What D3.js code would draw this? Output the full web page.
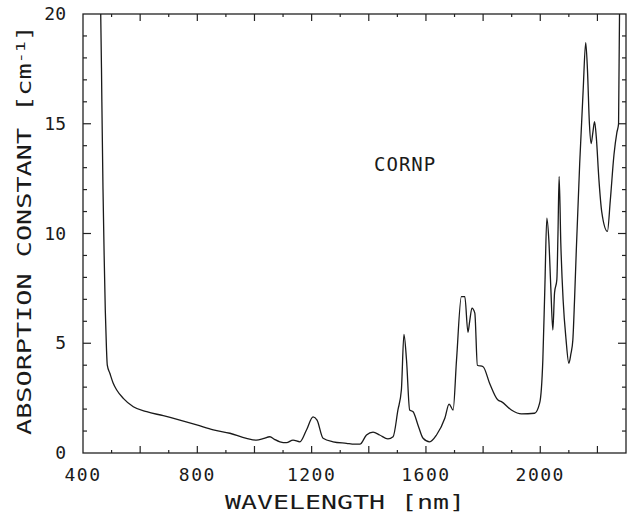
<!DOCTYPE html><html><head><meta charset="UTF-8"><script src="https://d3js.org/d3.v7.min.js"></script><style>
            body { margin: 0; background: #fff; }
            #chart { width: 632px; height: 513px; }
            text { font-family: "DejaVu Sans Mono", monospace; fill: #1a1a1a; }
        </style></head><body><div id="chart"></div><script>
            // wavelength (nm) and absorption constant (cm-1)
            const wavelength = [455, 462, 466, 470, 474, 478, 482, 485, 494, 505, 518, 541, 576, 623, 681, 739, 798, 856, 914, 972,
                1007, 1030, 1054, 1070, 1089, 1112, 1135, 1159, 1182, 1205, 1219, 1240, 1275, 1322, 1350, 1369, 1392, 1415, 1438, 1467,
                1485, 1502, 1514, 1523, 1532, 1543, 1555, 1572, 1590, 1613, 1637, 1666, 1681, 1695, 1707, 1724, 1736, 1747, 1753, 1761,
                1771, 1780, 1800, 1823, 1852, 1864, 1899, 1934, 1980, 1998, 2009, 2016, 2023, 2030, 2037, 2044, 2050, 2058, 2062, 2066,
                2072, 2080, 2090, 2100, 2107, 2114, 2120, 2126, 2138, 2150, 2159, 2165, 2172, 2178, 2184, 2190, 2196, 2205, 2215, 2235,
                2245, 2258, 2268, 2274, 2278];
            const absorption = [21, 20, 16, 12, 9, 6.5, 4.8, 4.0, 3.63, 3.2, 2.87, 2.49, 2.11, 1.88, 1.70, 1.50, 1.28, 1.05, 0.90, 0.67,
                0.59, 0.65, 0.74, 0.62, 0.51, 0.47, 0.59, 0.51, 1.05, 1.65, 1.5, 0.67, 0.51, 0.44, 0.40, 0.40, 0.82, 0.95, 0.82, 0.64,
                0.74, 1.96, 2.87, 5.4, 4.24, 1.96, 1.88, 1.28, 0.67, 0.51, 0.82, 1.58, 2.23, 1.96, 4.24, 7.12, 7.12, 5.5, 6.0, 6.6,
                6.37, 4.0, 3.93, 3.17, 2.41, 2.34, 1.96, 1.78, 1.81, 2.28, 4.24, 7.5, 10.7, 9.7, 7.5, 5.6, 7.3, 7.9, 10, 12.6,
                9.5, 6.97, 5.2, 4.09, 4.5, 5.15, 7.0, 9.2, 13.2, 16.5, 18.7, 17.5, 15.0, 14.1, 14.6, 15.1, 14.4, 12.5, 11.0, 10.1,
                11.5, 13.6, 14.6, 15.0, 21];
            const xTickLabels = [400, 800, 1200, 1600, 2000];
            const yTickLabels = [0, 5, 10, 15, 20];
            const sampleName = 'CORNP';

            const svg = d3.select('#chart').append('svg')
                .attr('width', 632)
                .attr('height', 513);

            const x = d3.scaleLinear().domain([400, 2300]).range([83, 626]);
            const y = d3.scaleLinear().domain([0, 20]).range([453, 14]);

            // frame
            svg.append('rect')
                .attr('x', x(400)).attr('y', y(20))
                .attr('width', x(2300) - x(400)).attr('height', y(0) - y(20))
                .attr('fill', 'none').attr('stroke', '#222').attr('stroke-width', 1.3);

            // inward ticks on all four sides
            const xt = d3.range(500, 2300, 100);
            const yt = d3.range(1, 20, 1);
            const tickG = svg.append('g').attr('stroke', '#222').attr('stroke-width', 1.2);
            xt.forEach(v => {
                const len = v % 200 === 0 ? 7 : 3;
                tickG.append('line').attr('x1', x(v)).attr('x2', x(v)).attr('y1', y(0)).attr('y2', y(0) - len);
                tickG.append('line').attr('x1', x(v)).attr('x2', x(v)).attr('y1', y(20)).attr('y2', y(20) + len);
            });
            yt.forEach(v => {
                const len = v % 5 === 0 ? 8 : 4;
                tickG.append('line').attr('y1', y(v)).attr('y2', y(v)).attr('x1', x(400)).attr('x2', x(400) + len);
                tickG.append('line').attr('y1', y(v)).attr('y2', y(v)).attr('x1', x(2300)).attr('x2', x(2300) - len);
            });

            // tick labels
            svg.append('g').selectAll('text').data(xTickLabels).enter().append('text')
                .attr('x', d => x(d))
                .attr('y', 481)
                .attr('text-anchor', 'middle')
                .attr('font-size', 18)
                .attr('letter-spacing', 1.5)
                .text(d => d);
            svg.append('g').selectAll('text').data(yTickLabels).enter().append('text')
                .attr('x', 66)
                .attr('y', d => y(d) + 6)
                .attr('text-anchor', 'end')
                .attr('font-size', 18)
                .text(d => d);

            // axis titles
            svg.append('text')
                .attr('x', 345).attr('y', 509)
                .attr('text-anchor', 'middle')
                .attr('font-size', 19)
                .attr('textLength', 240).attr('lengthAdjust', 'spacingAndGlyphs')
                .text('WAVELENGTH [nm]');

            const yTitle = svg.append('text')
                .attr('transform', 'translate(31,230) rotate(-90)')
                .attr('text-anchor', 'middle')
                .attr('font-size', 19)
                .attr('textLength', 410).attr('lengthAdjust', 'spacingAndGlyphs');
            yTitle.append('tspan').text('ABSORPTION CONSTANT [cm');
            yTitle.append('tspan').attr('font-size', 13).attr('dy', -6).text('-1');
            yTitle.append('tspan').attr('dy', 6).text(']');

            // sample label
            svg.append('text')
                .attr('x', 374).attr('y', 171)
                .attr('font-size', 19)
                .attr('letter-spacing', 1)
                .text(sampleName);

            // spectrum
            svg.append('clipPath').attr('id', 'plot')
                .append('rect')
                .attr('x', x(400)).attr('y', y(20))
                .attr('width', x(2300) - x(400)).attr('height', y(0) - y(20));

            const line = d3.line()
                .x(d => x(d[0]))
                .y(d => y(d[1]))
                .curve(d3.curveMonotoneX);

            svg.append('path')
                .datum(d3.zip(wavelength, absorption))
                .attr('clip-path', 'url(#plot)')
                .attr('d', line)
                .attr('fill', 'none')
                .attr('stroke', '#1a1a1a')
                .attr('stroke-width', 1.3);
        </script></body></html>
